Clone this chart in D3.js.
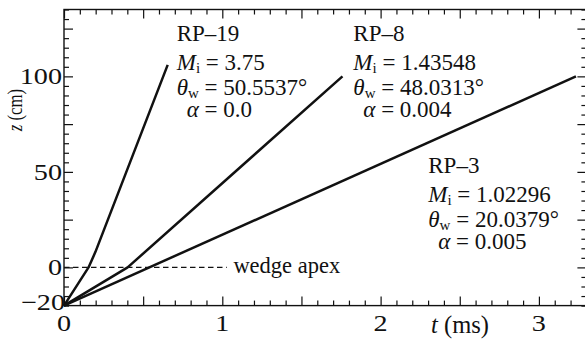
<!DOCTYPE html>
<html>
<head>
<meta charset="utf-8">
<script src="https://cdn.jsdelivr.net/npm/d3@7"></script>
<style>
  html, body { margin: 0; padding: 0; background: #fff; }
  svg { display: block; }
</style>
</head>
<body>
<svg id="chart" width="585" height="344" font-family="'Liberation Serif', 'Times New Roman', Times, 'DejaVu Serif', serif"></svg>
<script>
// ---- data ----
const runNames = ["RP–19", "RP–8", "RP–3"];
const machI    = ["3.75", "1.43548", "1.02296"];
const thetaW   = ["50.5537", "48.0313", "20.0379"];
const alphaVal = ["0.0", "0.004", "0.005"];

// trajectories (t in ms, z in cm)
const rp19T = [0, 0.155, 0.198, 0.655];
const rp19Z = [-20, 0, 8, 106];
const rp8T  = [0, 0.402, 1.759];
const rp8Z  = [-20, 0, 100];
const rp3T  = [0, 3.234];
const rp3Z  = [-20, 100];

const xTickLabels = [0, 1, 2, 3];
const yTickLabels = [-20, 0, 50, 100];
const apexZ = 0;
const apexLabel = "wedge apex";
const xTitle = "t";
const yTitle = "z";

// ---- layout ----
const svg = d3.select("#chart");
const x = d3.scaleLinear().domain([0, 3.3]).range([64, 586.4]);
const y = d3.scaleLinear().domain([-20, 135]).range([305.6, 9.5]);
const X0 = x.range()[0], X1 = x.range()[1], Y0 = y.range()[0], Y1 = y.range()[1];

// ticks
const xMinor = d3.range(0, 3.31, 0.1).map(v => +v.toFixed(2));
const xLong = xMinor.filter(v => Math.abs(v * 2 - Math.round(v * 2)) < 1e-6);
const xShort = xMinor.filter(v => !xLong.includes(v));
const yMinor = d3.range(-20, 136, 5);
const yLong = yMinor.filter(v => v % 25 === 0);
const yShort = yMinor.filter(v => v % 25 !== 0);

function addAxis(gen, vals, size, tx, ty) {
  const g = svg.append("g").attr("transform", `translate(${tx},${ty})`)
    .call(gen.tickValues(vals).tickSize(size).tickFormat(""));
  g.select(".domain").remove();
  g.attr("font-family", null);
  g.selectAll("line").attr("stroke", "#111").attr("stroke-width", 1.2);
}
[[xShort, 5], [xLong, 9]].forEach(([v, s]) => {
  addAxis(d3.axisBottom(x), v, -s, 0, Y0);
  addAxis(d3.axisTop(x), v, -s, 0, Y1);
});
[[yShort, 5], [yLong, 9]].forEach(([v, s]) => {
  addAxis(d3.axisLeft(y), v, -s, X0, 0);
  addAxis(d3.axisRight(y), v, -s, X1, 0);
});

// frame
svg.append("rect").attr("x", X0).attr("y", Y1).attr("width", X1 - X0).attr("height", Y0 - Y1)
  .attr("fill", "none").attr("stroke", "#111").attr("stroke-width", 1.4);

// tick labels
svg.selectAll("text.xt").data(xTickLabels).enter().append("text")
  .attr("class", "xt")
  .attr("transform", d => `translate(${x(d)},331) scale(1.2,1)`)
  .attr("text-anchor", "middle").attr("font-size", 23.5).attr("fill", "#111")
  .text(d => d);
svg.selectAll("text.yt").data(yTickLabels).enter().append("text")
  .attr("class", "yt")
  .attr("transform", d => `translate(${d === -20 ? 65 : 62},${y(d) + (d === -20 ? 4.5 : 8)}) scale(1.2,1)`)
  .attr("text-anchor", "end").attr("font-size", 23.5).attr("fill", "#111")
  .text(d => d < 0 ? "−" + Math.abs(d) : d);

// axis titles
const xt = svg.append("text").attr("x", 460).attr("y", 333).attr("text-anchor", "middle")
  .attr("font-size", 24.5).attr("fill", "#111");
xt.append("tspan").attr("font-style", "italic").text(xTitle);
xt.append("tspan").text(" (ms)");
const yt = svg.append("text").attr("transform", "translate(22,110) rotate(-90) scale(0.8,1)")
  .attr("text-anchor", "middle").attr("font-size", 21).attr("fill", "#111");
yt.append("tspan").attr("font-style", "italic").text(yTitle);
yt.append("tspan").text(" (cm)");

// wedge apex dashed line
svg.append("line")
  .attr("x1", x(0)).attr("x2", x(1.028)).attr("y1", y(apexZ)).attr("y2", y(apexZ))
  .attr("stroke", "#111").attr("stroke-width", 1.2).attr("stroke-dasharray", "5.5,3.5");
svg.append("text").attr("x", x(1.07)).attr("y", y(apexZ) + 6).attr("font-size", 22.5)
  .attr("fill", "#111").text(apexLabel);

// trajectories
const line = d3.line().x(d => x(d[0])).y(d => y(d[1]));
[[rp19T, rp19Z], [rp8T, rp8Z], [rp3T, rp3Z]].forEach(([ts, zs]) => {
  svg.append("path").datum(ts.map((t, i) => [t, zs[i]]))
    .attr("d", line).attr("fill", "none").attr("stroke", "#111")
    .attr("stroke-width", 2.5).attr("stroke-linejoin", "round");
});

// annotations (anchor in data coords)
const anchors = [[0.712, 118.5], [1.8276, 118.5], [2.301, 49.3]];
anchors.forEach(([at, az], i) => {
  const ax = x(at), ay = y(az);
  const g = svg.append("g").attr("font-size", 23).attr("fill", "#111");
  g.append("text").attr("x", ax).attr("y", ay).text(runNames[i]);
  const m = g.append("text").attr("x", ax).attr("y", ay + 29);
  m.append("tspan").attr("font-style", "italic").text("M");
  m.append("tspan").attr("font-size", 15).attr("dy", 2.5).text("i");
  m.append("tspan").attr("dy", -2.5).text(" = " + machI[i]);
  const th = g.append("text").attr("x", ax).attr("y", ay + 54);
  th.append("tspan").attr("font-style", "italic").text("θ");
  th.append("tspan").attr("font-size", 15).attr("dy", 2.5).text("w");
  th.append("tspan").attr("dy", -2.5).text(" = " + thetaW[i] + "°");
  const al = g.append("text").attr("x", ax + 10).attr("y", ay + 76);
  al.append("tspan").attr("font-style", "italic").text("α");
  al.append("tspan").text(" = " + alphaVal[i]);
});
</script>
</body>
</html>
